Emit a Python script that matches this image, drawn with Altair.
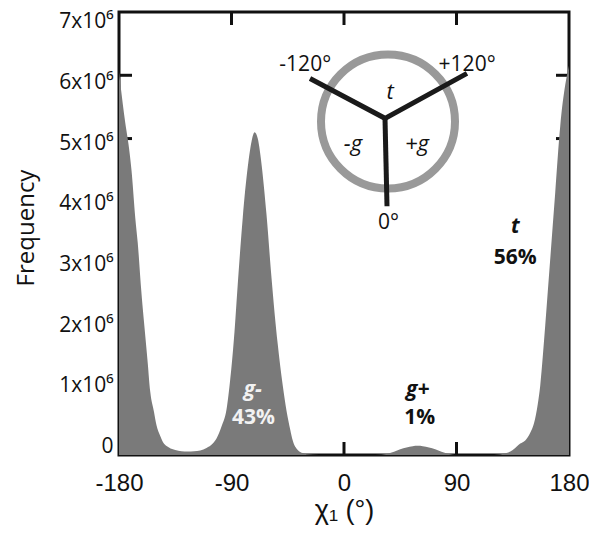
import altair as alt
import pandas as pd

# ---- main distribution (chi1 in degrees, frequency in millions) ----
chi = [-180, -177, -175, -172, -170, -167, -165, -162, -160, -157, -155, -152, -150, -147,
       -145, -140, -135, -130, -125, -120, -115, -110, -105, -102, -98, -94, -91, -88, -85,
       -81, -77, -74, -71.5, -69, -66, -62, -58, -53, -49, -46, -43, -41, -37, -33, -30,
       -20, 0, 20, 30, 35, 40, 45, 50, 55, 59, 63, 68, 73, 78, 83, 87, 90, 100, 120, 130,
       135, 138, 141, 145, 149, 152, 155, 157, 161, 165, 169, 173, 177, 180]
freq = [6.05, 5.55, 5.25, 4.85, 4.5, 3.75, 3.35, 2.55, 2.1, 1.45, 1.0, 0.68, 0.47, 0.3,
        0.21, 0.12, 0.08, 0.06, 0.055, 0.06, 0.07, 0.11, 0.18, 0.26, 0.45, 0.72, 1.2, 1.85, 2.7,
        3.75, 4.55, 4.95, 5.1, 5.0, 4.6, 3.8, 2.8, 1.75, 1.1, 0.7, 0.4, 0.23, 0.08, 0.03, 0.01,
        0, 0, 0, 0.005, 0.02, 0.05, 0.09, 0.12, 0.14, 0.145, 0.14, 0.12, 0.09, 0.05, 0.02, 0.005, 0,
        0, 0, 0.03, 0.08, 0.13, 0.18, 0.23, 0.35, 0.5, 0.8, 1.1, 2.05, 3.1, 4.15, 5.2, 5.85, 6.15]

x_ticks = [-180, -90, 0, 90, 180]
x_inner_ticks = [-90, 0, 90]
y_ticks = [0, 1, 2, 3, 4, 5, 6, 7]
y_inner_ticks = [1, 2, 3, 4, 5, 6]

# ---- peak annotations ----
ann_name = ["g-", "g+", "t"]
ann_name_x = [-73, 59, 137]
ann_name_y = [1.03, 1.03, 3.60]
ann_pct = ["43%", "1%", "56%"]
ann_pct_x = [-72.5, 60.5, 137]
ann_pct_y = [0.58, 0.58, 3.12]
ann_color = ["#f2f2f2", "#111111", "#111111"]

# ---- inset rotamer diagram (in chart coordinates) ----
circle_x = [35.2]
circle_y = [5.27]
spoke_seg = ["a", "a", "a", "b", "b"]
spoke_order = [0, 1, 2, 0, 1]
spoke_x = [-27.2, 32.8, 98.4, 32.8, 34.4]
spoke_y = [5.95, 5.32, 6.03, 5.32, 3.93]
angle_text = ["-120°", "+120°", "0°"]
angle_x = [-31, 98.5, 35.5]
angle_y = [6.17, 6.17, 3.66]
state_text = ["t", "-g", "+g"]
state_x = [36.8, 7.2, 58.4]
state_y = [5.74, 4.92, 4.92]

df = pd.DataFrame({"chi": chi, "freq": freq})
name_df = pd.DataFrame({"x": ann_name_x, "y": ann_name_y, "label": ann_name, "c": ann_color})
pct_df = pd.DataFrame({"x": ann_pct_x, "y": ann_pct_y, "label": ann_pct, "c": ann_color})
circ_df = pd.DataFrame({"x": circle_x, "y": circle_y})
spoke_df = pd.DataFrame({"x": spoke_x, "y": spoke_y, "seg": spoke_seg, "o": spoke_order})
angle_df = pd.DataFrame({"x": angle_x, "y": angle_y, "label": angle_text})
state_df = pd.DataFrame({"x": state_x, "y": state_y, "label": state_text})
xt_df = pd.DataFrame({"v": x_inner_ticks})
yt_df = pd.DataFrame({"v": y_inner_ticks})

W, H = 450, 443
xs = alt.Scale(domain=[-180, 180], nice=False, zero=False)
ys = alt.Scale(domain=[0, 7], nice=False, zero=False)

x_axis = alt.Axis(values=x_ticks, ticks=False, domain=False, grid=False,
                  labelExpr="'' + datum.value",
                  labelFont="Liberation Sans", labelFontSize=24, labelColor="#111",
                  labelPadding=16, labelFlush=False, labelOverlap=False,
                  titleFont="Liberation Sans", titleFontSize=27, titleFontWeight="normal",
                  titleColor="#111", titlePadding=2)
y_axis = alt.Axis(values=y_ticks, ticks=False, domain=False, grid=False,
                  labelExpr="datum.value == 0 ? '0' : datum.value + 'x10⁶'",
                  labelOffset=alt.ExprRef(expr="(datum.value - 3.2) * 2.6"),
                  labelFont="Open Sans", labelFontSize=21, labelColor="#111",
                  labelPadding=6, labelFlush=False, labelOverlap=False,
                  titleFont="Open Sans", titleFontSize=24, titleFontWeight="normal",
                  titleColor="#111", titleX=-81, titleY=H / 2 - 6)
X_TITLE = "χ₁ (°)"
Y_TITLE = "Frequency"


def X(field):
    return alt.X(field, scale=xs, axis=x_axis, title=X_TITLE)


def Y(field):
    return alt.Y(field, scale=ys, axis=y_axis, title=Y_TITLE)


tick_col = "#111111"
bottom_ticks = alt.Chart(xt_df).mark_rule(color=tick_col, strokeWidth=3).encode(
    x=X("v:Q"), y=alt.value(H), y2=alt.value(H - 13))
top_ticks = alt.Chart(xt_df).mark_rule(color=tick_col, strokeWidth=3).encode(
    x=X("v:Q"), y=alt.value(0), y2=alt.value(13))
left_ticks = alt.Chart(yt_df).mark_rule(color=tick_col, strokeWidth=3).encode(
    y=Y("v:Q"), x=alt.value(0), x2=alt.value(13))
right_ticks = alt.Chart(yt_df).mark_rule(color=tick_col, strokeWidth=3).encode(
    y=Y("v:Q"), x=alt.value(W), x2=alt.value(W - 13))

area = alt.Chart(df).mark_area(color="#7a7a7a", interpolate="monotone", opacity=1).encode(
    x=X("chi:Q"), y=Y("freq:Q"))

circle = alt.Chart(circ_df).mark_point(shape="circle", filled=False, size=134 * 134,
                                       stroke="#999999", strokeWidth=8, opacity=1).encode(
    x=X("x:Q"), y=Y("y:Q"))

spokes = alt.Chart(spoke_df).mark_line(color="#1a1a1a", strokeWidth=5, strokeJoin="miter",
                                       strokeCap="butt").encode(
    x=X("x:Q"), y=Y("y:Q"), detail="seg:N", order="o:Q")

angle_labels = alt.Chart(angle_df).mark_text(font="Open Sans", fontSize=21, color="#111").encode(
    x=X("x:Q"), y=Y("y:Q"), text="label:N")

state_labels = alt.Chart(state_df).mark_text(font="Open Sans", fontSize=22, fontStyle="italic",
                                             color="#111").encode(
    x=X("x:Q"), y=Y("y:Q"), text="label:N")

name_labels = alt.Chart(name_df).mark_text(font="Open Sans", fontSize=21, fontWeight="bold",
                                           fontStyle="italic").encode(
    x=X("x:Q"), y=Y("y:Q"), text="label:N", color=alt.Color("c:N", scale=None))

pct_labels = alt.Chart(pct_df).mark_text(font="Open Sans", fontSize=21, fontWeight="bold").encode(
    x=X("x:Q"), y=Y("y:Q"), text="label:N", color=alt.Color("c:N", scale=None))

chart = alt.layer(bottom_ticks, top_ticks, left_ticks, right_ticks, area, circle, spokes,
                  angle_labels, state_labels, name_labels, pct_labels).properties(
    width=W, height=H,
    autosize=alt.AutoSizeParams(type="none"),
    padding={"left": 111, "top": 4, "right": 20, "bottom": 70},
    background="white",
).configure_view(stroke="#111111", strokeWidth=3)

chart.save("out.html", embed_options={"renderer": "svg", "actions": False})
